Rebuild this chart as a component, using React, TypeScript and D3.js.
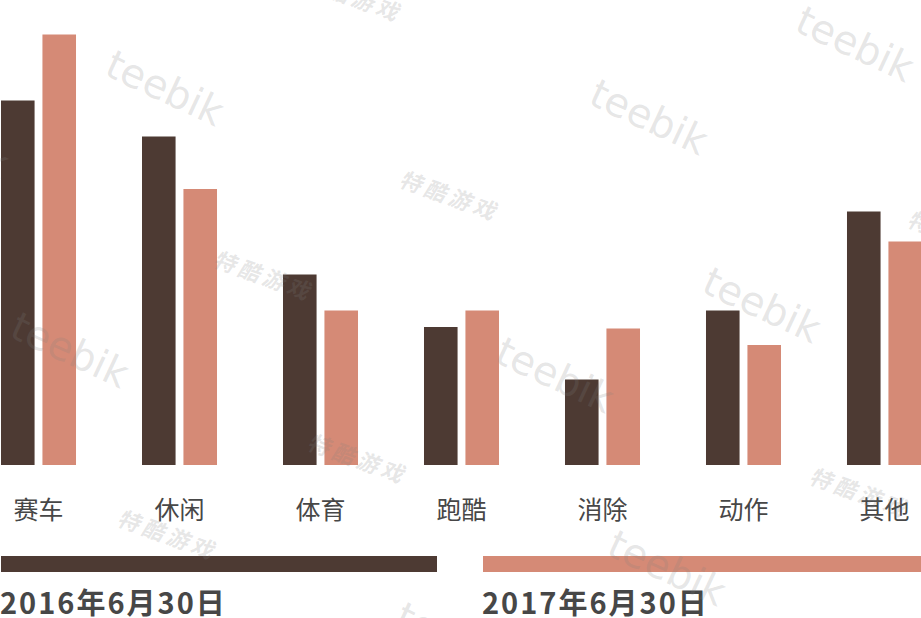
import * as d3 from "d3"

const categories = ["赛车", "休闲", "体育", "跑酷", "消除", "动作", "其他"]
const seriesNames = ["2016年6月30日", "2017年6月30日"]
const values2016 = [24.3, 21.9, 12.7, 9.2, 5.7, 10.3, 16.9]
const values2017 = [28.7, 18.4, 10.3, 10.3, 9.1, 8.0, 14.9]

// faint watermark tiles seen across the picture
const markLatin = [
  [-50, 140], [165, 88], [649, 117], [855, 44], [70, 350],
  [555, 375], [762, 305], [667, 568], [455, 640],
]
const markCjk = [
  [355, -4], [452, 195], [266, 275], [960, 235], [360, 458],
  [170, 534], [862, 492],
]

const W = 921
const H = 618
const colors = ["#4d3a33", "#d58a76"]
const textColor = "#474747"

export default function App() {
  const baseline = 465
  const series = [values2016, values2017]

  const x = d3
    .scaleBand()
    .domain(categories)
    .range([1, 922])
    .paddingInner(0.468)
    .paddingOuter(0)

  const xs = d3
    .scaleBand()
    .domain(seriesNames)
    .range([0, x.bandwidth()])
    .paddingInner(0.19)

  const y = d3.scaleLinear().domain([0, 31]).range([baseline, 0])

  const legendX = d3.scaleOrdinal<string, number>().domain(seriesNames).range([1, 483])
  const legendW = [436, 438]

  return (
    <svg
      width={W}
      height={H}
      style={{ position: "absolute", left: 0, top: 0, background: "#fff" }}
      fontFamily="'Noto Sans CJK SC', 'Noto Sans', sans-serif"
    >
      {series.map((vals, si) =>
        vals.map((v, i) => (
          <rect
            key={`${si}-${i}`}
            x={x(categories[i])! + xs(seriesNames[si])!}
            y={y(v)}
            width={xs.bandwidth()}
            height={baseline - y(v)}
            fill={colors[si]}
          />
        )),
      )}

      {categories.map((c) => (
        <text
          key={c}
          x={x(c)! + x.bandwidth() / 2}
          y={508}
          textAnchor="middle"
          dominantBaseline="central"
          fontSize={25}
          fill={textColor}
        >
          {c}
        </text>
      ))}

      {seriesNames.map((s, i) => (
        <g key={s}>
          <rect x={legendX(s)} y={556} width={legendW[i]} height={16} fill={colors[i]} />
          <text
            x={legendX(s) - 1}
            y={614}
            fontSize={29}
            fontWeight="bold"
            letterSpacing={2}
            fill={textColor}
          >
            {s}
          </text>
        </g>
      ))}

      <g pointerEvents="none" fill="#808080" fillOpacity={0.2}>
        {markLatin.map(([cx, cy], i) => (
          <text
            key={`l${i}`}
            transform={`translate(${cx},${cy}) rotate(25)`}
            textAnchor="middle"
            dominantBaseline="central"
            fontFamily="'DejaVu Sans', sans-serif"
            fontSize={40}
          >
            teebik
          </text>
        ))}
        {markCjk.map(([cx, cy], i) => (
          <text
            key={`c${i}`}
            transform={`translate(${cx},${cy}) rotate(20) skewX(-12)`}
            textAnchor="middle"
            dominantBaseline="central"
            fontSize={22}
            fontWeight="bold"
            letterSpacing={4}
          >
            特酷游戏
          </text>
        ))}
      </g>
    </svg>
  )
}
